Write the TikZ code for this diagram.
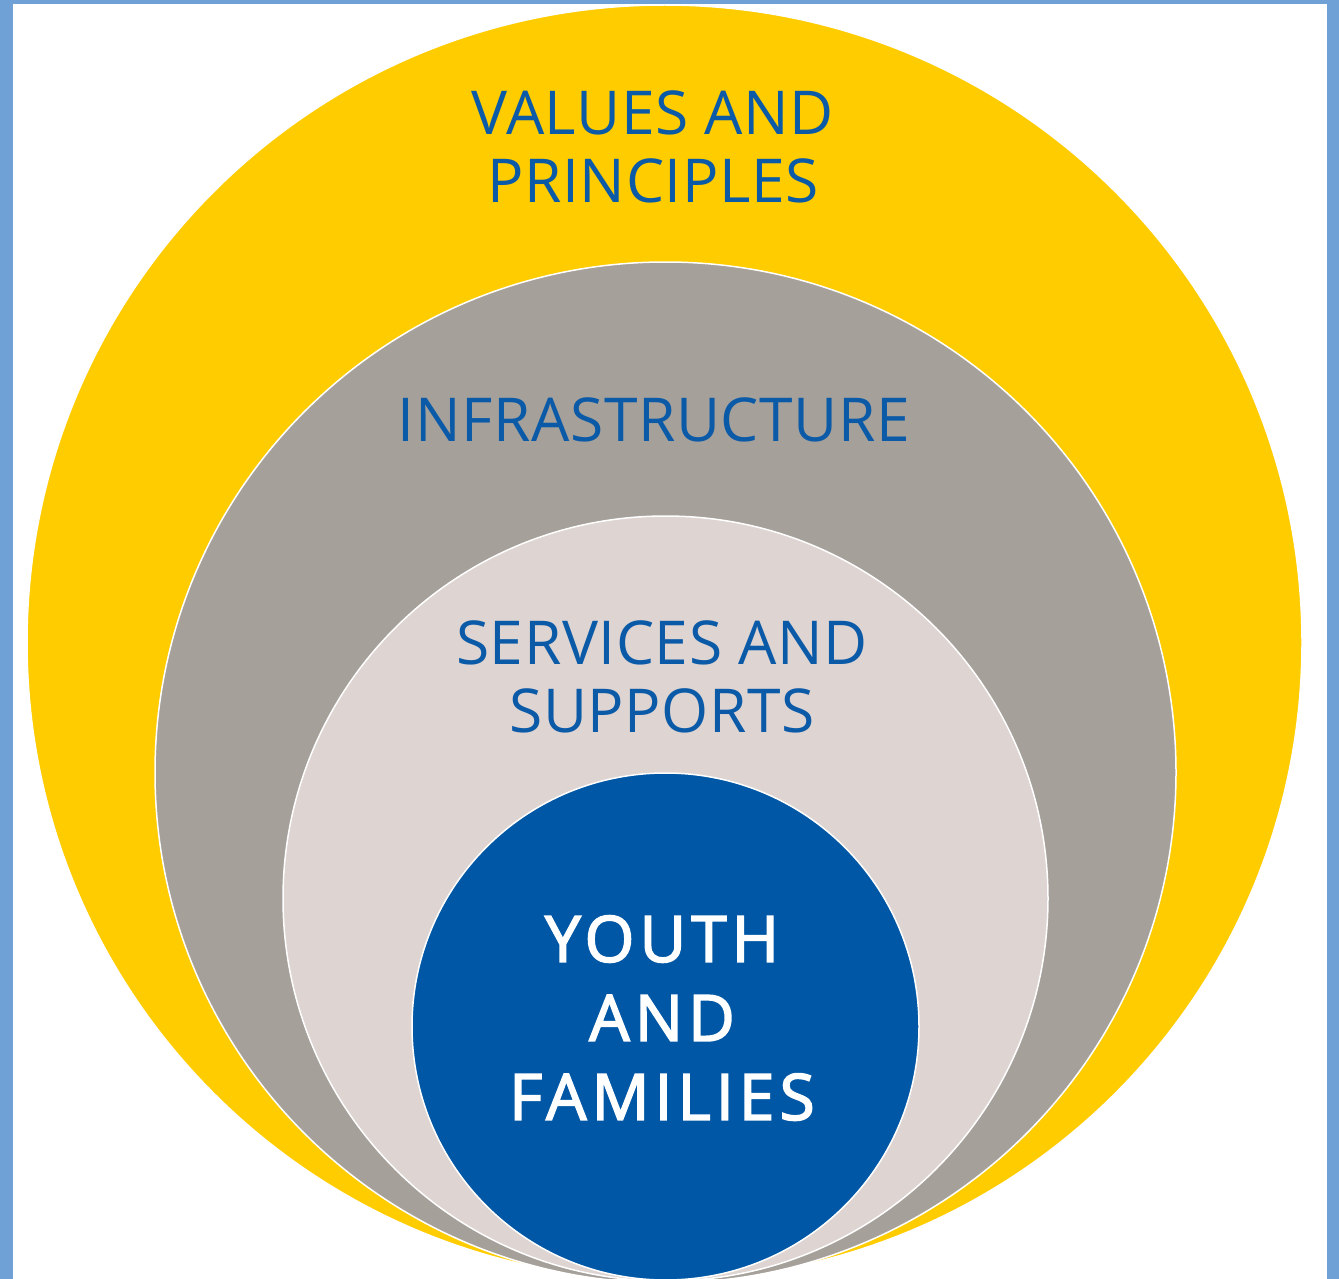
\documentclass[tikz,border=0pt]{standalone}
\usepackage{fontspec}
\setmainfont{Open Sans}
\newfontfamily\labelfont[LetterSpace=1]{Open Sans}
\newfontfamily\corefont[LetterSpace=8,FakeBold=2.5]{Open Sans}
\definecolor{frameblue}{HTML}{6FA1D6}
\definecolor{ringyellow}{HTML}{FFCC00}
\definecolor{ringgray}{HTML}{A5A09A}
\definecolor{ringlight}{HTML}{DED4D1}
\definecolor{coreblue}{HTML}{0057A5}
\definecolor{textblue}{HTML}{0A5AA8}
\tikzset{
  ring/.style={circle, draw=white, line width=1.5pt, inner sep=0pt, minimum size=#1},
  ringlabel/.style={text=textblue, align=center, inner sep=0pt, font=\labelfont\fontsize{60.5}{68}\selectfont},
  corelabel/.style={text=white, align=center, inner sep=0pt, font=\corefont\fontsize{64}{79}\selectfont}
}
\begin{document}
\begin{tikzpicture}[x=1pt,y=-1pt]
  % page frame: blue edge on left, top and right
  \fill[frameblue] (0,0) rectangle (1339,1279);
  \fill[white] (13,4) rectangle (1327,1279);
  \useasboundingbox (0,0) rectangle (1339,1279);
  \begin{scope}
    \clip (13,4) rectangle (1327,1279);
    \node[ring=1275pt, fill=ringyellow] (values) at (664.5,642.5) {};
    \node[ring=1021pt, fill=ringgray] (infra) at (665.5,772.5) {};
    \node[ring=765pt, fill=ringlight] (services) at (665.5,898.5) {};
    \node[ring=507pt, fill=coreblue] (youth) at (665.5,1026.5) {};
  \end{scope}
  \node[ringlabel] (valuesT) at (653,147) {VALUES AND\\PRINCIPLES};
  \node[ringlabel, anchor=base] (infraT) at (654,441) {INFRASTRUCTURE};
  \node[ringlabel] (servicesT) at (662,677) {SERVICES AND\\SUPPORTS};
  \node[corelabel] (youthT) at (662,1018) {YOUTH\\AND\\FAMILIES};
\end{tikzpicture}
\end{document}
